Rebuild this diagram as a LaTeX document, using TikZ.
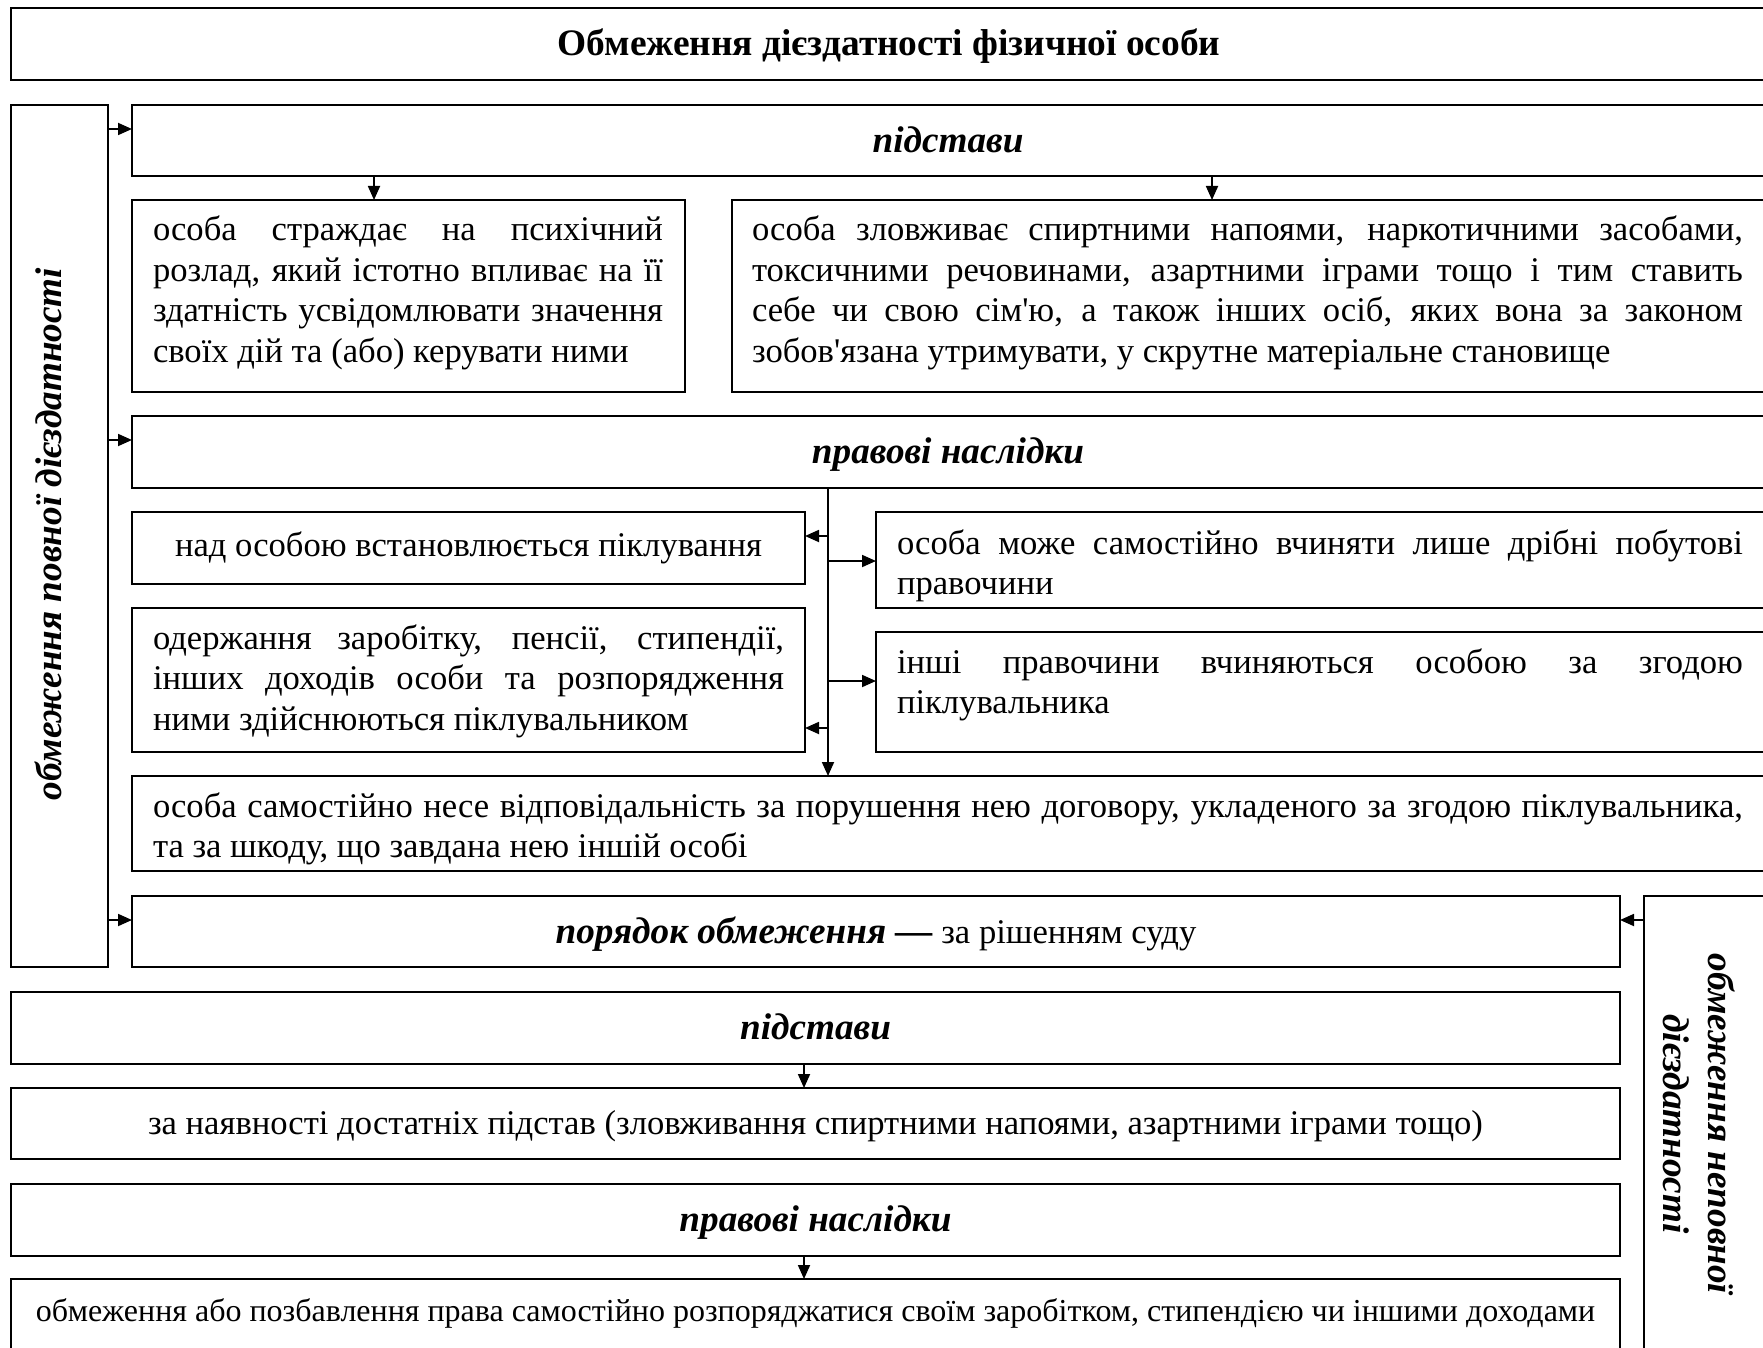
\documentclass[tikz,border=0pt]{standalone}
\usepackage{fontspec}
\setmainfont{Liberation Serif}[Ligatures=TeXOff]
\usetikzlibrary{arrows.meta}
\newcommand\JL[2]{{\spaceskip=0pt\xspaceskip=0pt\makebox[#1pt][s]{#2}}}
\newcommand\LL[1]{{\spaceskip=0pt\xspaceskip=0pt #1}}
\newcommand\rmsz{\fontsize{34.6}{40.5}\selectfont}
\newcommand\bisz{\fontsize{37.2}{40.5}\selectfont\bfseries\itshape}
\begin{document}
\begin{tikzpicture}[x=1pt,y=-1pt,
  box/.style={draw, line width=1.8pt, inner sep=0pt, outer sep=0pt, anchor=north west},
  arr/.style={line width=1.8pt, -{Triangle[length=14pt,width=12pt]}},
  txt/.style={inner sep=0pt, outer sep=0pt, font=\rmsz},
  hd/.style={inner sep=0pt, outer sep=0pt, font=\bisz},
]
\useasboundingbox (0,0) rectangle (1763,1348);
\clip (0,0) rectangle (1763,1348);

% boxes
\node[box, minimum width=1757pt, minimum height=72pt] (T) at (11,8) {};
\node[box, minimum width=97pt, minimum height=862pt] (L) at (11,105) {};
\node[box, minimum width=1636pt, minimum height=71pt] (A) at (132,105) {};
\node[box, minimum width=553pt, minimum height=192pt] (B1) at (132,200) {};
\node[box, minimum width=1036pt, minimum height=192pt] (B2) at (732,200) {};
\node[box, minimum width=1636pt, minimum height=72pt] (P) at (132,416) {};
\node[box, minimum width=673pt, minimum height=72pt] (C1) at (132,512) {};
\node[box, minimum width=673pt, minimum height=144pt] (C2) at (132,608) {};
\node[box, minimum width=892pt, minimum height=96pt] (D1) at (876,512) {};
\node[box, minimum width=892pt, minimum height=120pt] (D2) at (876,632) {};
\node[box, minimum width=1636pt, minimum height=95pt] (E) at (132,776) {};
\node[box, minimum width=1488pt, minimum height=71pt] (Q) at (132,896) {};
\node[box, minimum width=130pt, minimum height=470pt] (R) at (1644,896) {};
\node[box, minimum width=1609pt, minimum height=72pt] (F) at (11,992) {};
\node[box, minimum width=1609pt, minimum height=71pt] (G) at (11,1088) {};
\node[box, minimum width=1609pt, minimum height=72pt] (H) at (11,1184) {};
\node[box, minimum width=1609pt, minimum height=80pt] (I) at (11,1279) {};

% texts
\node[txt, font=\fontsize{37.4}{40.5}\selectfont\bfseries, anchor=base] (tT) at (889,56) {Обмеження дієздатності фізичної особи};
\node[hd, anchor=base] (tA) at (948,153) {підстави};
\node[txt, anchor=base west, text width=510pt, align=left] (tB1) at (153,241)
  {\JL{510}{особа страждає на психічний}\\
   \JL{510}{розлад, який істотно впливає на її}\\
   \JL{510}{здатність усвідомлювати значення}\\
   \LL{своїх дій та (або) керувати ними}};
\node[txt, anchor=base west, text width=991pt, align=left] (tB2) at (752,241)
  {\JL{991}{особа зловживає спиртними напоями, наркотичними засобами,}\\
   \JL{991}{токсичними речовинами, азартними іграми тощо і тим ставить}\\
   \JL{991}{себе чи свою сім'ю, а також інших осіб, яких вона за законом}\\
   \LL{зобов'язана утримувати, у скрутне матеріальне становище}};
\node[hd, anchor=base] (tP) at (948,463) {правові наслідки};
\node[txt, anchor=base] (tC1) at (468.5,556) {над особою встановлюється піклування};
\node[txt, anchor=base west, text width=631pt, align=left] (tC2) at (153,649)
  {\JL{631}{одержання заробітку, пенсії, стипендії,}\\
   \JL{631}{інших доходів особи та розпорядження}\\
   \LL{ними здійснюються піклувальником}};
\node[txt, anchor=base west, text width=846pt, align=left] (tD1) at (897,554)
  {\JL{846}{особа може самостійно вчиняти лише дрібні побутові}\\
   \LL{правочини}};
\node[txt, anchor=base west, text width=846pt, align=left] (tD2) at (897,673)
  {\JL{846}{інші правочини вчиняються особою за згодою}\\
   \LL{піклувальника}};
\node[txt, anchor=base west, text width=1590pt, align=left] (tE) at (153,817)
  {\JL{1590}{особа самостійно несе відповідальність за порушення нею договору, укладеного за згодою піклувальника,}\\
   \LL{та за шкоду, що завдана нею іншій особі}};
\node[txt, anchor=base] (tQ) at (876,943) {{\bisz порядок обмеження —} за рішенням суду};
\node[hd, anchor=base] (tF) at (815.5,1039) {підстави};
\node[txt, anchor=base] (tG) at (815.5,1134) {за наявності достатніх підстав (зловживання спиртними напоями, азартними іграми тощо)};
\node[hd, anchor=base] (tH) at (815.5,1231) {правові наслідки};
\node[txt, font=\fontsize{32}{40.5}\selectfont, anchor=base] (tI) at (815.5,1321) {обмеження або позбавлення права самостійно розпоряджатися своїм заробітком, стипендією чи іншими доходами};
\node[hd, rotate=90, anchor=center] (tL) at (48,534) {обмеження повної дієздатності};
\node[hd, font=\fontsize{37.2}{45}\selectfont\bfseries\itshape, rotate=-90, align=center, anchor=center] (tR) at (1699,1124) {обмеження неповної\\дієздатності};

% connectors
\coordinate (yA) at (0,129);
\coordinate (yP) at (0,440);
\coordinate (yQ) at (0,920);
\coordinate (xB1) at (374,0);
\coordinate (xB2) at (1212,0);
\coordinate (tr) at (828,0);
\coordinate (yC1) at (0,536);
\coordinate (yC2) at (0,728);
\coordinate (yD1) at (0,561);
\coordinate (yD2) at (0,681);
\coordinate (xF) at (804,0);
\draw[arr] (L.east |- yA) -- (A.west |- yA);
\draw[arr] (L.east |- yP) -- (P.west |- yP);
\draw[arr] (L.east |- yQ) -- (Q.west |- yQ);
\draw[arr] (R.west |- yQ) -- (Q.east |- yQ);
\draw[arr] (xB1 |- A.south) -- (xB1 |- B1.north);
\draw[arr] (xB2 |- A.south) -- (xB2 |- B2.north);
\draw[arr] (tr |- P.south) -- (tr |- E.north);
\draw[arr] (tr |- yC1) -- (C1.east |- yC1);
\draw[arr] (tr |- yC2) -- (C2.east |- yC2);
\draw[arr] (tr |- yD1) -- (D1.west |- yD1);
\draw[arr] (tr |- yD2) -- (D2.west |- yD2);
\draw[arr] (xF |- F.south) -- (xF |- G.north);
\draw[arr] (xF |- H.south) -- (xF |- I.north);
\end{tikzpicture}
\end{document}
